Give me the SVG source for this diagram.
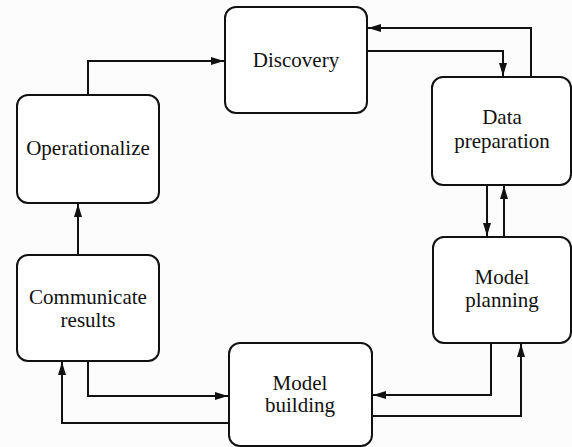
<svg xmlns="http://www.w3.org/2000/svg" width="572" height="447" viewBox="0 0 572 447">
<defs>
<marker id="arr" markerWidth="14" markerHeight="10" refX="13" refY="5" orient="auto" markerUnits="userSpaceOnUse">
<path d="M0,1 L13,5 L0,9 Z" fill="#111"/>
</marker>
<style>
.box{fill:#fff;stroke:#111;stroke-width:2}
.lbl{font-family:"Liberation Serif","Times New Roman",serif;font-size:21px;fill:#111;text-anchor:middle}
.c{fill:none;stroke:#111;stroke-width:2;marker-end:url(#arr)}
</style>
</defs>
<rect x="0" y="0" width="572" height="447" fill="#fcfcfc"/>
<g id="discovery"><rect class="box" x="225" y="7" width="142" height="106" rx="11"/><text class="lbl" x="296" y="67">Discovery</text></g>
<g id="operationalize"><rect class="box" x="17" y="95" width="142" height="108" rx="11"/><text class="lbl" x="88" y="155">Operationalize</text></g>
<g id="datapreparation"><rect class="box" x="432" y="77" width="139" height="108" rx="11"/><text class="lbl" x="502" y="124">Data</text><text class="lbl" x="502" y="148">preparation</text></g>
<g id="modelplanning"><rect class="box" x="433" y="237" width="138" height="106" rx="11"/><text class="lbl" x="502" y="284">Model</text><text class="lbl" x="502" y="307">planning</text></g>
<g id="modelbuilding"><rect class="box" x="229" y="343" width="143" height="103" rx="11"/><text class="lbl" x="300" y="390">Model</text><text class="lbl" x="300" y="412">building</text></g>
<g id="communicate"><rect class="box" x="17" y="255" width="142" height="106" rx="11"/><text class="lbl" x="88" y="304">Communicate</text><text class="lbl" x="88" y="327">results</text></g>
<g id="connectors">
<path class="c" d="M88,95 V61 H224"/>
<path class="c" d="M531,77 V28 H368"/>
<path class="c" d="M367,51 H503 V76"/>
<path class="c" d="M487,185 V236"/>
<path class="c" d="M504,237 V186"/>
<path class="c" d="M491,343 V395 H373"/>
<path class="c" d="M372,416 H521 V344"/>
<path class="c" d="M88,361 V396 H228"/>
<path class="c" d="M229,423 H62 V362"/>
<path class="c" d="M78,255 V204"/>
</g>
</svg>
